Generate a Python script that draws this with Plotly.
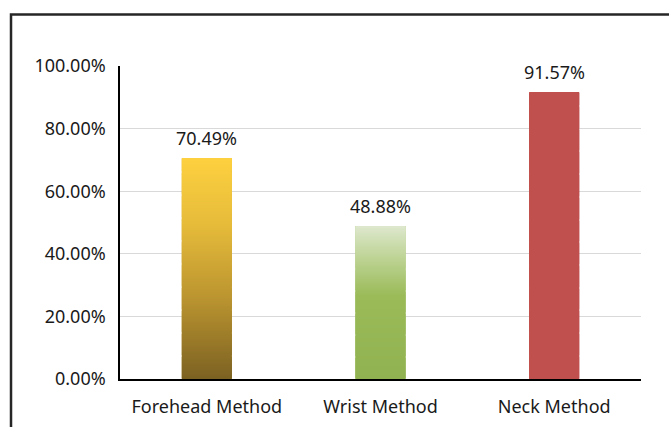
import plotly.graph_objects as go

# Detection accuracy per measurement method
methods = ["Forehead Method", "Wrist Method", "Neck Method"]
accuracy = [70.49, 48.88, 91.57]

# Vertical colour stops (0 = bar bottom, 1 = bar top) for each bar
gradients = [
    [(0.0, (123, 97, 34)), (0.35, (184, 146, 47)), (0.7, (230, 187, 58)), (1.0, (253, 208, 63))],
    [(0.0, (145, 178, 80)), (0.55, (155, 187, 89)), (0.8, (190, 212, 150)), (1.0, (221, 231, 204))],
    [(0.0, (192, 80, 77)), (1.0, (192, 80, 77))],
]

FONT = "Noto Sans"
TXT = "#1a1a1a"
BAR_W = 0.288
SLICES_PER_UNIT = 3  # roughly one slice per screen pixel of bar height


def color_at(stops, t):
    for (t0, c0), (t1, c1) in zip(stops, stops[1:]):
        if t0 <= t <= t1:
            f = 0 if t1 == t0 else (t - t0) / (t1 - t0)
            return "rgb({},{},{})".format(*[round(a + (b - a) * f) for a, b in zip(c0, c1)])
    return "rgb({},{},{})".format(*stops[-1][1])


fig = go.Figure()

# Solid base bars (mid-tone), covered by the gradient slices below
fig.add_trace(go.Bar(
    x=methods, y=accuracy, width=BAR_W,
    marker=dict(color=[color_at(g, 0.5) for g in gradients], line=dict(width=0)),
    hoverinfo="skip", showlegend=False,
))

# Gradient fill: each bar is stacked from thin slices of its own value
xs, ys, bases, cols = [], [], [], []
for m, v, g in zip(methods, accuracy, gradients):
    n = max(1, int(v * SLICES_PER_UNIT))
    step = v / n
    for i in range(n):
        xs.append(m)
        ys.append(step)
        bases.append(step * i)
        cols.append(color_at(g, (i + 0.5) / n))
fig.add_trace(go.Bar(
    x=xs, y=ys, base=bases, width=BAR_W,
    marker=dict(color=cols, line=dict(width=0)),
    hoverinfo="skip", showlegend=False,
))

# Value labels above the bars
for m, v in zip(methods, accuracy):
    fig.add_annotation(
        x=m, y=v, text=f"{v:.2f}%", showarrow=False,
        yanchor="bottom", yshift=6,
        font=dict(family=FONT, size=18, color=TXT),
    )

# Outer frame around the chart
fig.add_shape(
    type="rect", xref="paper", yref="paper",
    x0=-0.2092, x1=1.2, y0=-0.2, y1=1.1645,
    line=dict(color="#262626", width=2.5), fillcolor="rgba(0,0,0,0)", layer="above",
)

fig.update_layout(
    width=669, height=427,
    margin=dict(l=120, r=28, t=66, b=48),
    paper_bgcolor="white", plot_bgcolor="white",
    barmode="overlay", showlegend=False,
    font=dict(family=FONT, size=18, color=TXT),
)
fig.update_xaxes(
    automargin=False,
    showline=True, linecolor="black", linewidth=1.5,
    showgrid=False, ticks="", ticklabelstandoff=11,
    tickfont=dict(family=FONT, size=18, color=TXT),
)
fig.update_yaxes(
    automargin=False,
    range=[0, 100], dtick=20, tickformat=".2f", ticksuffix="%",
    showline=True, linecolor="black", linewidth=1.5,
    showgrid=True, gridcolor="#d9d9d9", gridwidth=1,
    zeroline=False, ticks="", ticklabelstandoff=9,
    tickfont=dict(family=FONT, size=18, color=TXT),
)

fig.write_html("out.html")
